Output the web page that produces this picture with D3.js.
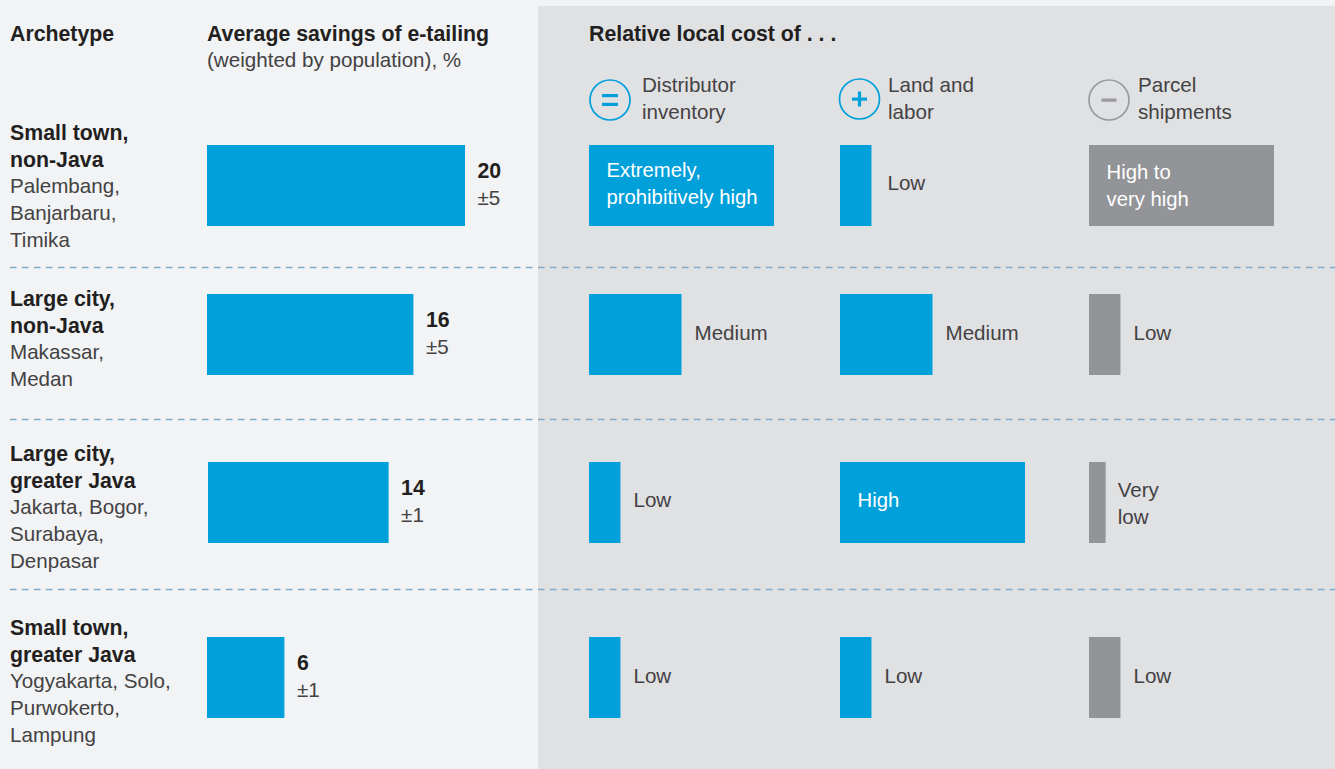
<!DOCTYPE html>
<html><head><meta charset="utf-8">
<script src="https://cdn.jsdelivr.net/npm/d3@7"></script>
<style>
html,body{margin:0;padding:0;background:#f1f3f5;overflow:hidden}
svg{display:block}
text{font-family:"Liberation Sans",Arial,sans-serif;font-size:20.6px;fill:#444243;font-weight:400}
text.b{font-weight:700;fill:#231f20;font-size:21.3px}
text.w{font-size:20.3px}
</style></head><body><svg id="c" width="1335" height="769"></svg>
<script>
const archetypes=["Small town, non-Java","Large city, non-Java","Large city, greater Java","Small town, greater Java"];
const nameLines=[["Small town,","non-Java"],["Large city,","non-Java"],["Large city,","greater Java"],["Small town,","greater Java"]];
const cityLines=[["Palembang,","Banjarbaru,","Timika"],["Makassar,","Medan"],["Jakarta, Bogor,","Surabaya,","Denpasar"],["Yogyakarta, Solo,","Purwokerto,","Lampung"]];
const savings=[20,16,14,6];
const margins=["±5","±5","±1","±1"];
const costColumns=[["Distributor","inventory"],["Land and","labor"],["Parcel","shipments"]];
const costSymbols=["=","+","−"];
const inventoryCost=[100,50,17,17];
const laborCost=[17,50,100,17];
const parcelCost=[100,17,9,17];
const inventoryLabels=[["Extremely,","prohibitively high"],["Medium"],["Low"],["Low"]];
const laborLabels=[["Low"],["Medium"],["High"],["Low"]];
const parcelLabels=[["High to","very high"],["Low"],["Very","low"],["Low"]];

const svg=d3.select("#c");
const BLUE="#00a0db",GRAY="#929497",LH=26.7,H=81;
svg.append("rect").attr("x",538).attr("y",6).attr("width",797).attr("height",763).attr("fill","#e0e1e3");

const rowY=d3.scaleOrdinal(archetypes,[145,294,462,637]);
const xSave=d3.scaleLinear([0,20],[0,258]);
const xCost=d3.scaleLinear([0,100],[0,185]);
const colX=d3.scaleOrdinal([0,1,2],[589,840,1089]);

function lines(x,y,arr,cls,fill){
  const t=svg.append("text").attr("x",x).attr("y",y);
  if(cls)t.attr("class",cls);
  if(fill)t.style("fill",fill);
  arr.forEach((s,i)=>t.append("tspan").attr("x",x).attr("y",y+i*LH).text(s));
  return t;
}
// headers
lines(10,41,["Archetype"],"b");
lines(207,41,["Average savings of e-tailing"],"b");
lines(207,67,["(weighted by population), %"]);
lines(589,41,["Relative local cost of . . ."],"b");

// column heads
const symColor=[BLUE,BLUE,"#9a9b9e"];
const symX=[610,859.5,1109];
const symY=[100,99,100];
const headX=[642,888,1138];
costColumns.forEach((c,i)=>{
  svg.append("circle").attr("cx",symX[i]).attr("cy",symY[i]).attr("r",20).attr("fill","none").attr("stroke",symColor[i]).attr("stroke-width",1.7);
  const g=svg.append("g").attr("transform",`translate(${symX[i]},${symY[i]})`).attr("fill",symColor[i]);
  if(costSymbols[i]==="="){
    g.append("rect").attr("x",-8).attr("y",-6).attr("width",16).attr("height",3.2);
    g.append("rect").attr("x",-8).attr("y",2.8).attr("width",16).attr("height",3.2);
  }else{
    g.append("rect").attr("x",-7.5).attr("y",-1.5).attr("width",15).attr("height",3.2);
    if(costSymbols[i]==="+")g.append("rect").attr("x",-1.6).attr("y",-7.5).attr("width",3.2).attr("height",15);
  }
  lines(headX[i],92,c);
});

// dividers
[267,419,589].forEach(y=>svg.append("line").attr("x1",10).attr("x2",1335).attr("y1",y+0.5).attr("y2",y+0.5)
  .attr("stroke","#7fabcb").attr("stroke-width",1.3).attr("stroke-dasharray","6.5 5.5"));

// row labels
const nameBase=[140,306,461,635];
archetypes.forEach((a,i)=>{
  lines(10,nameBase[i],nameLines[i],"b");
  lines(10,nameBase[i]+2*LH,cityLines[i]);
});

// savings bars
const barX=[207,207,208,207];
archetypes.forEach((a,i)=>{
  const w=xSave(savings[i]);
  svg.append("rect").attr("x",barX[i]).attr("y",rowY(a)).attr("width",w).attr("height",H).attr("fill",BLUE);
  lines(barX[i]+w+12.5,rowY(a)+33,[String(savings[i])],"b");
  lines(barX[i]+w+12.5,rowY(a)+59.5,[margins[i]]);
});

// cost bars
const nudgeY=[[-2,-2,-3,-2],[-3,-2,-3,-2],[0,-2,1,-2]];
const nudgeX=[[0,0,0,0],[3,0,0,0],[0,0,-1,0]];
[[inventoryCost,inventoryLabels],[laborCost,laborLabels],[parcelCost,parcelLabels]].forEach(([vals,labs],c)=>{
  const color=c===2?GRAY:BLUE;
  archetypes.forEach((a,i)=>{
    const w=xCost(vals[i]),x=colX(c),y=rowY(a),l=labs[i];
    svg.append("rect").attr("x",x).attr("y",y).attr("width",w).attr("height",H).attr("fill",color);
    const inside=w>=xCost(100);
    const base=y+H/2+7-(l.length-1)*LH/2+nudgeY[c][i];
    lines((inside?x+17.5:x+w+13)+nudgeX[c][i],base,l,inside?"w":null,inside?"#ffffff":null);
  });
});
</script></body></html>
